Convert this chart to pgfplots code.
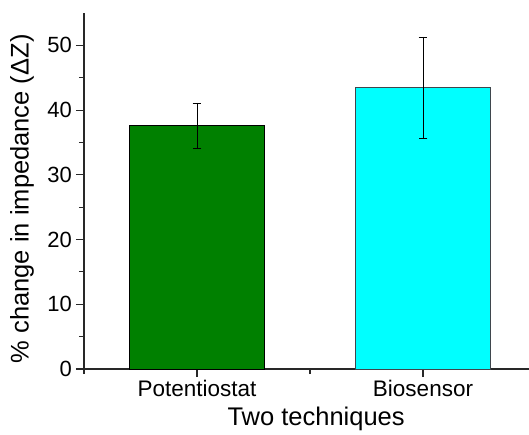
\documentclass[border=0pt]{standalone}
\usepackage{pgfplots}
\pgfplotsset{compat=1.18}
\usepackage{fontspec}
\setmainfont{Liberation Sans}
\definecolor{bargreen}{RGB}{0,128,0}
\definecolor{barcyan}{RGB}{0,255,255}
\definecolor{axisgray}{RGB}{40,40,40}
\begin{document}
\begin{tikzpicture}
\begin{axis}[
 scale only axis, width=445pt, height=356pt,
 xmin=0.5, xmax=2.469, ymin=0, ymax=55,
 axis x line=bottom, axis y line=left,
 axis line style={-, line width=1.3pt, color=axisgray},
 every tick/.style={line width=1.1pt, color=axisgray},
 tick align=outside,
 major tick length=8pt, minor tick length=5pt,
 ytick={0,10,...,50}, minor ytick={5,15,...,45},
 xtick={1,2}, xticklabels={Potentiostat,Biosensor}, minor xtick={0.5,1.5},
 /pgf/number format/assume math mode=true,
 yticklabel style={font=\fontsize{22}{24}\selectfont, inner sep=1pt, xshift=-3pt},
 xticklabel style={font=\fontsize{22.5}{25}\selectfont},
 every axis x label/.style={at={(axis cs:1.527,0)}, yshift=-50pt, anchor=center},
 every axis y label/.style={at={(axis description cs:0,0.478)}, xshift=-62pt, rotate=90, anchor=center},
 xlabel={Two techniques}, ylabel={\% change in impedance (ΔZ)},
 label style={font=\fontsize{25.5}{28}\selectfont},
 clip=false,
]
\coordinate (O) at (rel axis cs:0,0);
\addplot[ybar, bar width=0.6, bar shift=0pt, fill=bargreen, draw=black, line width=0.8pt,
 error bars/.cd, y dir=both, y explicit,
 error bar style={black, line width=0.8pt},
 error mark options={black, line width=0.8pt, mark size=4.3pt, rotate=90}]
 coordinates {(1,37.6) +- (0,3.5)};
\addplot[ybar, bar width=0.6, bar shift=0pt, fill=barcyan, draw=black!80!cyan, line width=0.8pt,
 error bars/.cd, y dir=both, y explicit,
 error bar style={black, line width=0.8pt},
 error mark options={black, line width=0.8pt, mark size=4.3pt, rotate=90}]
 coordinates {(2,43.5) +- (0,7.8)};
\end{axis}
\pgfresetboundingbox
\path (O) ++(-84pt,-65pt) rectangle ++(529pt,434pt);
\end{tikzpicture}
\end{document}
